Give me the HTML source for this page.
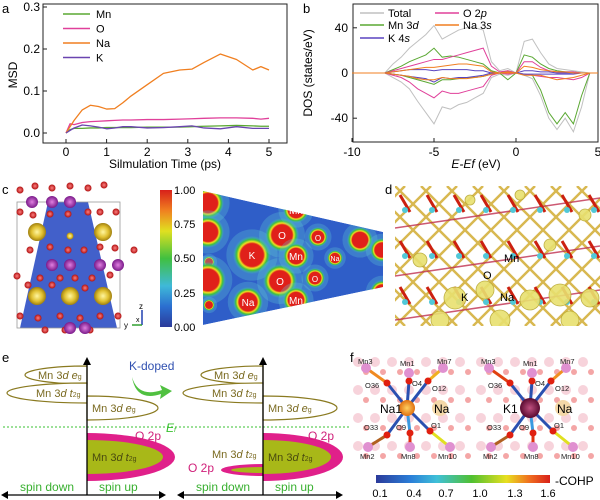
<!DOCTYPE html>
<html><head><meta charset="utf-8">
<style>
html,body{margin:0;padding:0;background:#fff;}
svg{display:block;font-family:"Liberation Sans",sans-serif;}
</style></head>
<body>
<svg id="fig" width="600" height="500" viewBox="0 0 600 500" xmlns="http://www.w3.org/2000/svg">
<text x="2" y="13" font-size="13">a</text>
<text x="303" y="13" font-size="13">b</text>
<text x="2" y="194" font-size="13">c</text>
<text x="385" y="194" font-size="13">d</text>
<text x="2" y="362" font-size="13">e</text>
<text x="350" y="362" font-size="13">f</text>

<g id="pa">
<rect x="43" y="4" width="244" height="139" fill="none" stroke="#222" stroke-width="1"/>
<text transform="translate(17,75) rotate(-90)" font-size="12" text-anchor="middle">MSD</text>
<text x="165" y="168" font-size="12" text-anchor="middle">Silmulation Time (ps)</text>
</g>
<g id="pb">
<rect x="353" y="4" width="245" height="138" fill="none" stroke="#222" stroke-width="1"/>
<text transform="translate(312,73) rotate(-90)" font-size="12" text-anchor="middle">DOS (states/eV)</text>
<text x="476" y="168" font-size="12" text-anchor="middle" font-style="italic">E-Ef <tspan font-style="normal">(eV)</tspan></text>
</g>

<defs>
<linearGradient id="jet" x1="0" y1="1" x2="0" y2="0">
<stop offset="0" stop-color="#2b3a9a"/><stop offset="0.15" stop-color="#2b6fd0"/><stop offset="0.3" stop-color="#3fb9d8"/><stop offset="0.5" stop-color="#40c040"/><stop offset="0.7" stop-color="#e0e020"/><stop offset="0.85" stop-color="#f08020"/><stop offset="1" stop-color="#d8201a"/>
</linearGradient>
<linearGradient id="jeth" x1="0" y1="0" x2="1" y2="0">
<stop offset="0" stop-color="#2b3a9a"/><stop offset="0.2" stop-color="#2b7fd8"/><stop offset="0.35" stop-color="#3fc0d8"/><stop offset="0.55" stop-color="#50c030"/><stop offset="0.75" stop-color="#e8e020"/><stop offset="0.88" stop-color="#f07020"/><stop offset="1" stop-color="#d8201a"/>
</linearGradient>
<radialGradient id="blob"><stop offset="0.6" stop-color="#e0201a"/><stop offset="0.7" stop-color="#f0e020"/><stop offset="0.82" stop-color="#3cc040"/><stop offset="1" stop-color="#3fb9d8" stop-opacity="0"/></radialGradient>
<radialGradient id="ysph"><stop offset="0" stop-color="#fff6a0"/><stop offset="0.6" stop-color="#e0c030"/><stop offset="1" stop-color="#a08010"/></radialGradient>
<radialGradient id="psph"><stop offset="0" stop-color="#e080e0"/><stop offset="1" stop-color="#7a1a8a"/></radialGradient>
<radialGradient id="rsph"><stop offset="0" stop-color="#ff8080"/><stop offset="1" stop-color="#b01010"/></radialGradient>
<radialGradient id="osph"><stop offset="0" stop-color="#ffd060"/><stop offset="1" stop-color="#e07010"/></radialGradient>
<radialGradient id="ksph"><stop offset="0" stop-color="#c05080"/><stop offset="1" stop-color="#5a0a30"/></radialGradient>
<clipPath id="trap"><polygon points="203,191 383,232 383,287 203,325"/></clipPath>
<clipPath id="dclip"><rect x="395" y="186" width="205" height="140"/></clipPath>
</defs>

<g id="pc">
<polygon points="48,202 88,202 117,328 20,328" fill="#2d4fc4" opacity="0.9"/>
<rect x="17" y="202" width="103" height="126" fill="none" stroke="#999" stroke-width="0.8"/>
</g>
<rect x="160" y="190" width="12" height="137" fill="url(#jet)"/>
<g font-size="11">
<text x="174" y="194">1.00</text><text x="174" y="228">0.75</text><text x="174" y="262">0.50</text><text x="174" y="297">0.25</text><text x="174" y="331">0.00</text>
</g>
<g clip-path="url(#trap)">
<polygon points="203,191 383,232 383,287 203,325" fill="#2f5ec8"/>
<g id="blobs"></g>
</g>
<g font-size="10" fill="#fff" text-anchor="middle">
<text x="252" y="259">K</text><text x="282" y="239">O</text><text x="280" y="285">O</text><text x="248" y="306">Na</text>
<text x="296" y="214">Mn</text><text x="296" y="260">Mn</text><text x="296" y="304">Mn</text>
<text x="318" y="241" font-size="8">O</text><text x="315" y="282" font-size="8">O</text><text x="335" y="261" font-size="7">Na</text>
</g>

<g clip-path="url(#dclip)" id="pd"></g>
<g font-size="11">
<text x="504" y="262">Mn</text><text x="483" y="279">O</text><text x="461" y="301">K</text><text x="500" y="301">Na</text>
</g>

<g id="pe" font-size="11">
<line x1="3" y1="427" x2="350" y2="427" stroke="#39c030" stroke-width="1" stroke-dasharray="2,2"/>
<text x="166" y="432" fill="#39c030" font-style="italic" font-size="12">E<tspan font-size="7">f</tspan></text>
<g>
<path d="M87,366 A62,9 0 0 0 25,375 A62,9 0 0 0 87,384 Z" fill="#fff" stroke="#8a7a20" stroke-width="1.2"/>
<path d="M87,383 A80,10 0 0 0 7,393 A80,10 0 0 0 87,403 Z" fill="#fff" stroke="#8a7a20" stroke-width="1.2"/>
<path d="M87,396 A71,12 0 0 1 158,408 A71,12 0 0 1 87,420 Z" fill="#fff" stroke="#8a7a20" stroke-width="1.2"/>
<path d="M87,433 A88,24 0 0 1 175,457 A88,24 0 0 1 87,481 Z" fill="#e0208a"/>
<path d="M87,440 A76,17 0 0 1 163,457 A76,17 0 0 1 87,474 Z" fill="#a8b818"/>
<text x="38" y="379" fill="#7a6a20">Mn 3<tspan font-style="italic">d e</tspan><tspan font-size="7">g</tspan></text>
<text x="36" y="397" fill="#7a6a20">Mn 3<tspan font-style="italic">d t</tspan><tspan font-size="7">2g</tspan></text>
<text x="92" y="412" fill="#7a6a20">Mn 3<tspan font-style="italic">d e</tspan><tspan font-size="7">g</tspan></text>
<text x="92" y="461" fill="#4a4a10">Mn 3<tspan font-style="italic">d t</tspan><tspan font-size="7">2g</tspan></text>
<text x="135" y="440" fill="#d0207a" font-size="12">O 2p</text>
<line x1="87" y1="495" x2="87" y2="362" stroke="#000" stroke-width="1.3"/>
<polygon points="87,357 83,365 91,365" fill="#000"/>
<line x1="4" y1="495" x2="163" y2="495" stroke="#000" stroke-width="1.3"/>
<polygon points="1,495 8,491 8,499" fill="#000"/><polygon points="166,495 159,491 159,499" fill="#000"/>
<text x="20" y="491" fill="#39b030" font-size="12">spin down</text>
<text x="99" y="491" fill="#39b030" font-size="12">spin up</text>
</g>
<text x="129" y="370" fill="#3050b0" font-size="12">K-doped</text>
<path d="M132,377 Q138,398 162,390 L160,385 L172,391 L160,399 L161,394 Q136,402 132,377 Z" fill="#50c040"/>
<g>
<path d="M263,366 A62,9 0 0 0 201,375 A62,9 0 0 0 263,384 Z" fill="#fff" stroke="#8a7a20" stroke-width="1.2"/>
<path d="M263,383 A80,10 0 0 0 183,393 A80,10 0 0 0 263,403 Z" fill="#fff" stroke="#8a7a20" stroke-width="1.2"/>
<path d="M263,396 A74,12 0 0 1 337,408 A74,12 0 0 1 263,420 Z" fill="#fff" stroke="#8a7a20" stroke-width="1.2"/>
<path d="M263,433 A80,24 0 0 1 343,457 A80,24 0 0 1 263,481 Z" fill="#e0208a"/>
<path d="M263,440 A68,17 0 0 1 331,457 A68,17 0 0 1 263,474 Z" fill="#a8b818"/>
<path d="M263,464 A42,6 0 0 0 221,470 A42,6 0 0 0 263,476 Z" fill="#e0208a"/>
<path d="M263,467 A32,3 0 0 0 231,470 A32,3 0 0 0 263,473 Z" fill="#a8b818"/>
<text x="214" y="379" fill="#7a6a20">Mn 3<tspan font-style="italic">d e</tspan><tspan font-size="7">g</tspan></text>
<text x="212" y="397" fill="#7a6a20">Mn 3<tspan font-style="italic">d t</tspan><tspan font-size="7">2g</tspan></text>
<text x="268" y="412" fill="#7a6a20">Mn 3<tspan font-style="italic">d e</tspan><tspan font-size="7">g</tspan></text>
<text x="268" y="461" fill="#4a4a10">Mn 3<tspan font-style="italic">d t</tspan><tspan font-size="7">2g</tspan></text>
<text x="212" y="458" fill="#7a6a20">Mn 3<tspan font-style="italic">d t</tspan><tspan font-size="7">2g</tspan></text>
<text x="188" y="472" fill="#d0207a" font-size="12">O 2p</text>
<text x="308" y="440" fill="#d0207a" font-size="12">O 2p</text>
<line x1="263" y1="495" x2="263" y2="362" stroke="#000" stroke-width="1.3"/>
<polygon points="263,357 259,365 267,365" fill="#000"/>
<line x1="180" y1="495" x2="340" y2="495" stroke="#000" stroke-width="1.3"/>
<polygon points="177,495 184,491 184,499" fill="#000"/><polygon points="343,495 336,491 336,499" fill="#000"/>
<text x="196" y="491" fill="#39b030" font-size="12">spin down</text>
<text x="275" y="491" fill="#39b030" font-size="12">spin up</text>
</g>
</g>

<g id="pf"></g>
<rect x="376" y="475" width="174" height="8" fill="url(#jeth)"/>
<g font-size="11" text-anchor="middle">
<text x="380" y="497">0.1</text><text x="414" y="497">0.4</text><text x="446" y="497">0.7</text><text x="480" y="497">1.0</text><text x="515" y="497">1.3</text><text x="548" y="497">1.6</text>
</g>
<text x="555" y="485" font-size="12">-COHP</text>
</svg>

<script>
const NS="http://www.w3.org/2000/svg";
function mk(tag,attrs,parent){const e=document.createElementNS(NS,tag);for(const k in attrs)e.setAttribute(k,attrs[k]);parent.appendChild(e);return e;}

const msdTicksX=[0,1,2,3,4,5];
const msdTicksY=[0.0,0.1,0.2,0.3];
const msdTime=[0,0.1,0.2,0.4,0.6,0.8,1.0,1.2,1.4,1.6,2.0,2.4,2.8,3.1,3.4,3.8,4.2,4.6,4.8,5.0];
const msdNa=[0,0.015,0.03,0.055,0.066,0.063,0.057,0.058,0.072,0.088,0.115,0.142,0.150,0.152,0.168,0.188,0.175,0.150,0.158,0.150];
const msdO=[0,0.022,0.020,0.025,0.027,0.028,0.029,0.030,0.031,0.031,0.032,0.032,0.033,0.034,0.035,0.036,0.036,0.035,0.033,0.035];
const msdMn=[0,0.008,0.011,0.011,0.012,0.012,0.013,0.013,0.013,0.013,0.014,0.014,0.014,0.015,0.016,0.017,0.018,0.017,0.016,0.016];
const msdK=[0,0.006,0.012,0.019,0.017,0.014,0.010,0.012,0.015,0.015,0.012,0.013,0.015,0.017,0.012,0.010,0.015,0.011,0.011,0.011];
const msdSeries=[["Mn",msdMn,"#5aa832"],["O",msdO,"#e0409a"],["Na",msdNa,"#f07f20"],["K",msdK,"#6a44b0"]];
const ax=t=>66+t*40.6, ay=v=>133-v*420;
const pa=document.getElementById('pa');
msdTicksY.forEach(v=>{
  const t=mk('text',{x:40,y:ay(v)+4,'font-size':12,'text-anchor':'end'},pa);t.textContent=v.toFixed(1);
  
  
  mk('line',{x1:43,y1:ay(v),x2:47,y2:ay(v),stroke:'#222'},pa);
});
msdTicksX.forEach(v=>{
  const t=mk('text',{x:ax(v),y:156,'font-size':12,'text-anchor':'middle'},pa);t.textContent=v;
  
  
  mk('line',{x1:ax(v),y1:143,x2:ax(v),y2:139,stroke:'#222'},pa);
});
msdSeries.forEach((s,i)=>{
  const p=mk('polyline',{points:msdTime.map((t,j)=>ax(t)+','+ay(s[1][j])).join(' '),fill:'none',stroke:s[2],'stroke-width':1.3,'stroke-linejoin':'round'},pa);
  
  
  const ly=14+i*14.5;
  mk('line',{x1:63,y1:ly,x2:90,y2:ly,stroke:s[2],'stroke-width':1.5},pa);
  const t=mk('text',{x:96,y:ly+4,'font-size':11},pa);t.textContent=s[0];
  
  
});

const dosE=[-8,-7.5,-7,-6.5,-6,-5.5,-5,-4.5,-4,-3.5,-3,-2.5,-2,-1.5,-1,-0.5,0,0.5,1,1.5,2,2.5,3,3.5,4,4.5];
const dosTicksX=[-10,-5,0,5];
const dosTicksY=[-40,0,40];
const totUp=[0,8,14,22,28,34,42,30,34,38,40,40,38,10,2,4,0,28,30,18,8,4,3,2,1,0];
const totDn=[0,-4,-8,-14,-25,-35,-45,-30,-32,-28,-26,-22,-18,-4,-1,-2,0,-2,-5,-20,-40,-50,-40,-52,-30,0];
const mnUp=[0,3,6,10,13,16,22,14,15,14,12,10,8,2,0,2,0,16,14,8,4,2,1,1,0,0];
const mnDn=[0,-1,-2,-4,-6,-8,-10,-6,-6,-5,-4,-4,-3,-1,0,-6,0,-1,-2,-15,-35,-45,-35,-45,-20,0];
const oUp=[0,2,4,6,8,10,12,12,14,16,18,20,22,6,1,2,0,10,10,5,2,1,1,1,0,0];
const oDn=[0,-2,-4,-8,-14,-18,-22,-16,-18,-18,-16,-14,-12,-2,0,-1,0,-1,-2,-3,-4,-4,-5,-6,-4,0];
const kUp=[0,1,2,3,3,3,2,3,3,3,3,2,2,0,0,0,0,2,2,1,1,0,0,0,0,0];
const kDn=[0,-1,-2,-3,-4,-5,-8,-4,-5,-4,-4,-3,-2,0,0,0,0,-1,-1,-1,-1,-1,-1,-1,0,0];
const naUp=[0,1,2,3,4,5,5,6,7,8,8,7,6,1,0,1,0,6,5,3,2,1,1,0,0,0];
const naDn=[0,-1,-2,-3,-5,-6,-6,-4,-5,-5,-5,-4,-3,-1,0,0,0,-2,-2,-2,-4,-6,-5,-4,-2,0];
const dosSeries=[["total",totUp,totDn,"#c0c0c0"],["mn",mnUp,mnDn,"#5aa832"],["o",oUp,oDn,"#e0409a"],["k",kUp,kDn,"#5a44c0"],["na",naUp,naDn,"#f07f20"]];
const bx=e=>516+e*16.4, by=v=>73-v*1.13;
const pb=document.getElementById('pb');
dosTicksY.forEach(v=>{
  const t=mk('text',{x:348,y:by(v)+4,'font-size':12,'text-anchor':'end'},pb);t.textContent=v;
  
  
  mk('line',{x1:353,y1:by(v),x2:357,y2:by(v),stroke:'#222'},pb);
});
dosTicksX.forEach(v=>{
  const t=mk('text',{x:bx(v),y:156,'font-size':12,'text-anchor':'middle'},pb);t.textContent=v;
  
  
  mk('line',{x1:bx(v),y1:142,x2:bx(v),y2:138,stroke:'#222'},pb);
});
dosSeries.forEach(s=>{
  [s[1],s[2]].forEach((arr,k)=>{
    const p=mk('polyline',{points:[bx(-10)+','+by(0)].concat(dosE.map((e,j)=>bx(e)+','+by(arr[j]))).concat([bx(5)+','+by(0)]).join(' '),fill:'none',stroke:s[3],'stroke-width':1},pb);
    
    
  });
});
const dosLeg=[["Total","",360,13,"#c0c0c0"],["Mn 3","d",360,25,"#5aa832"],["K 4","s",360,38,"#5a44c0"],["O 2","p",435,13,"#e0409a"],["Na 3","s",435,25,"#f07f20"]];
dosLeg.forEach(l=>{
  mk('line',{x1:l[2],y1:l[3],x2:l[2]+24,y2:l[3],stroke:l[4],'stroke-width':1.5},pb);
  const t=mk('text',{x:l[2]+28,y:l[3]+4,'font-size':11},pb);
  t.textContent=l[0];
  if(l[1]){const ts=mk('tspan',{'font-style':'italic'},t);ts.textContent=l[1];}
  
  
});

const blobs=document.getElementById('blobs');
[[208,203,16],[208,232,16],[209,262,6],[208,280,18],[209,305,6],[252,255,19],[282,235,17],[280,281,17],[248,302,15],[296,210,13],[296,256,13],[296,300,13],[318,237,10],[315,278,10],[335,258,8],[360,240,13],[382,250,12],[382,292,12]].forEach(b=>{
  mk('circle',{cx:b[0],cy:b[1],r:b[2]*1.35,fill:'#5fc8d8',opacity:0.3},blobs);
  mk('circle',{cx:b[0],cy:b[1],r:b[2],fill:'url(#blob)'},blobs);
});
const pc=document.getElementById('pc');
const reds=[[20,190],[35,186],[52,188],[70,186],[88,188],[20,212],[33,215],[50,214],[68,214],[88,212],[100,212],[116,212],[30,250],[50,247],[68,250],[84,250],[100,247],[115,248],[134,250],[17,276],[40,278],[60,278],[75,278],[92,278],[110,275],[28,285],[52,285],[85,288],[20,316],[38,318],[60,316],[80,318],[100,316],[118,316],[45,330],[65,330],[90,330],[104,185]];
reds.forEach(r=>mk('circle',{cx:r[0],cy:r[1],r:3.5,fill:'url(#rsph)'},pc));
[[32,202],[52,202],[70,202],[52,265],[70,265],[100,265],[118,265],[70,328],[85,328]].forEach(p=>mk('circle',{cx:p[0],cy:p[1],r:6,fill:'url(#psph)'},pc));
[[37,232],[103,232],[37,296],[70,296],[103,296]].forEach(p=>mk('circle',{cx:p[0],cy:p[1],r:9,fill:'url(#ysph)'},pc));
mk('circle',{cx:70,cy:236,r:3.5,fill:'url(#ysph)'},pc);
mk('line',{x1:142,y1:325,x2:142,y2:310,stroke:'#2040b0','stroke-width':1.5},pc);
mk('line',{x1:142,y1:325,x2:132,y2:325,stroke:'#30a030','stroke-width':1.5},pc);
const tz=mk('text',{x:139,y:309,'font-size':8},pc);tz.textContent='z';
const ty=mk('text',{x:124,y:328,'font-size':8},pc);ty.textContent='y';
const tx=mk('text',{x:136,y:322,'font-size':7},pc);tx.textContent='x';

const pd=document.getElementById('pd');
mk('rect',{x:395,y:186,width:205,height:140,fill:'#fff'},pd);
for(let i=-6;i<12;i++){
  const x0=395+i*26;
  mk('line',{x1:x0,y1:186,x2:x0+140,y2:326,stroke:'#d8b850','stroke-width':2.5},pd);
  mk('line',{x1:x0+140,y1:186,x2:x0,y2:326,stroke:'#d8b850','stroke-width':2.5},pd);
}
[208,256,300].forEach(r=>{mk('line',{x1:395,y1:r+20,x2:600,y2:r-10,stroke:'#c03050','stroke-width':1.5,opacity:0.8},pd);});
for(let i=0;i<8;i++){for(let j=0;j<3;j++){
  mk('line',{x1:400+i*27,y1:195+j*46,x2:410+i*27,y2:212+j*46,stroke:'#cc2010','stroke-width':3},pd);
  mk('circle',{cx:405+i*27,cy:210+j*46,r:3,fill:'#50c8d8'},pd);
}}
[[455,298,11],[485,290,9],[530,300,10],[560,295,11],[590,298,9],[440,320,9],[500,320,10],[570,320,9],[420,260,7],[550,245,6],[585,215,6],[470,200,5],[520,195,5]].forEach(b=>mk('circle',{cx:b[0],cy:b[1],r:b[2],fill:'#e8e070',stroke:'#b8a830','stroke-width':0.8,opacity:0.9},pd));

const pf=document.getElementById('pf');
function cohpStruct(dx,label,fillC,bondCols){
  for(let i=0;i<7;i++)for(let j=0;j<4;j++){
    mk('circle',{cx:358+dx+i*17,cy:362+j*28,r:5,fill:'#f4c0cc',opacity:0.7},pf);
    mk('circle',{cx:366+dx+i*17,cy:372+j*28,r:3,fill:'#f08080',opacity:0.7},pf);
  }
  const c=[407+dx,408];
  const O=[[387,383],[409,381],[428,381],[387,435],[410,433],[430,431]];
  const M=[[366,368],[409,373],[443,368],[368,447],[410,447],[450,447]];
  O.forEach((o,k)=>{
    mk('line',{x1:c[0],y1:c[1],x2:o[0]+dx,y2:o[1],stroke:k==4?'#3a9ae0':'#2a50b0','stroke-width':3},pf);
    mk('line',{x1:o[0]+dx,y1:o[1],x2:M[k][0]+dx,y2:M[k][1],stroke:bondCols[k],'stroke-width':3},pf);
    mk('circle',{cx:o[0]+dx,cy:o[1],r:3.5,fill:'#e02010'},pf);
    mk('circle',{cx:M[k][0]+dx,cy:M[k][1],r:5,fill:'#e090d0'},pf);
  });
  mk('circle',{cx:c[0],cy:c[1],r:label=='K1'?10:8,fill:fillC},pf);
  mk('circle',{cx:440+dx,cy:408,r:8,fill:'#f4d8a8'},pf);
  const labs=[["Mn3",358,364],["Mn1",400,366],["Mn7",437,364],["O36",365,388],["O4",412,386],["O12",432,391],["O33",364,430],["O9",396,430],["O1",431,428],["Mn2",360,459],["Mn8",401,459],["Mn10",438,459]];
  labs.forEach(l=>{const t=mk('text',{x:l[1]+dx,y:l[2],'font-size':7.5,fill:'#222'},pf);t.textContent=l[0];});
  const t=mk('text',{x:c[0]-27,y:c[1]+5,'font-size':12},pf);t.textContent=label;
  const t2=mk('text',{x:434+dx,y:413,'font-size':12},pf);t2.textContent='Na';
}
cohpStruct(0,'Na1','url(#osph)',['#f08a20','#30a040','#f0b020','#b06020','#e03010','#e0e020']);
cohpStruct(123,'K1','url(#ksph)',['#e04010','#90b020','#f09020','#b06020','#e03010','#e0e020']);
</script>
</body></html>
